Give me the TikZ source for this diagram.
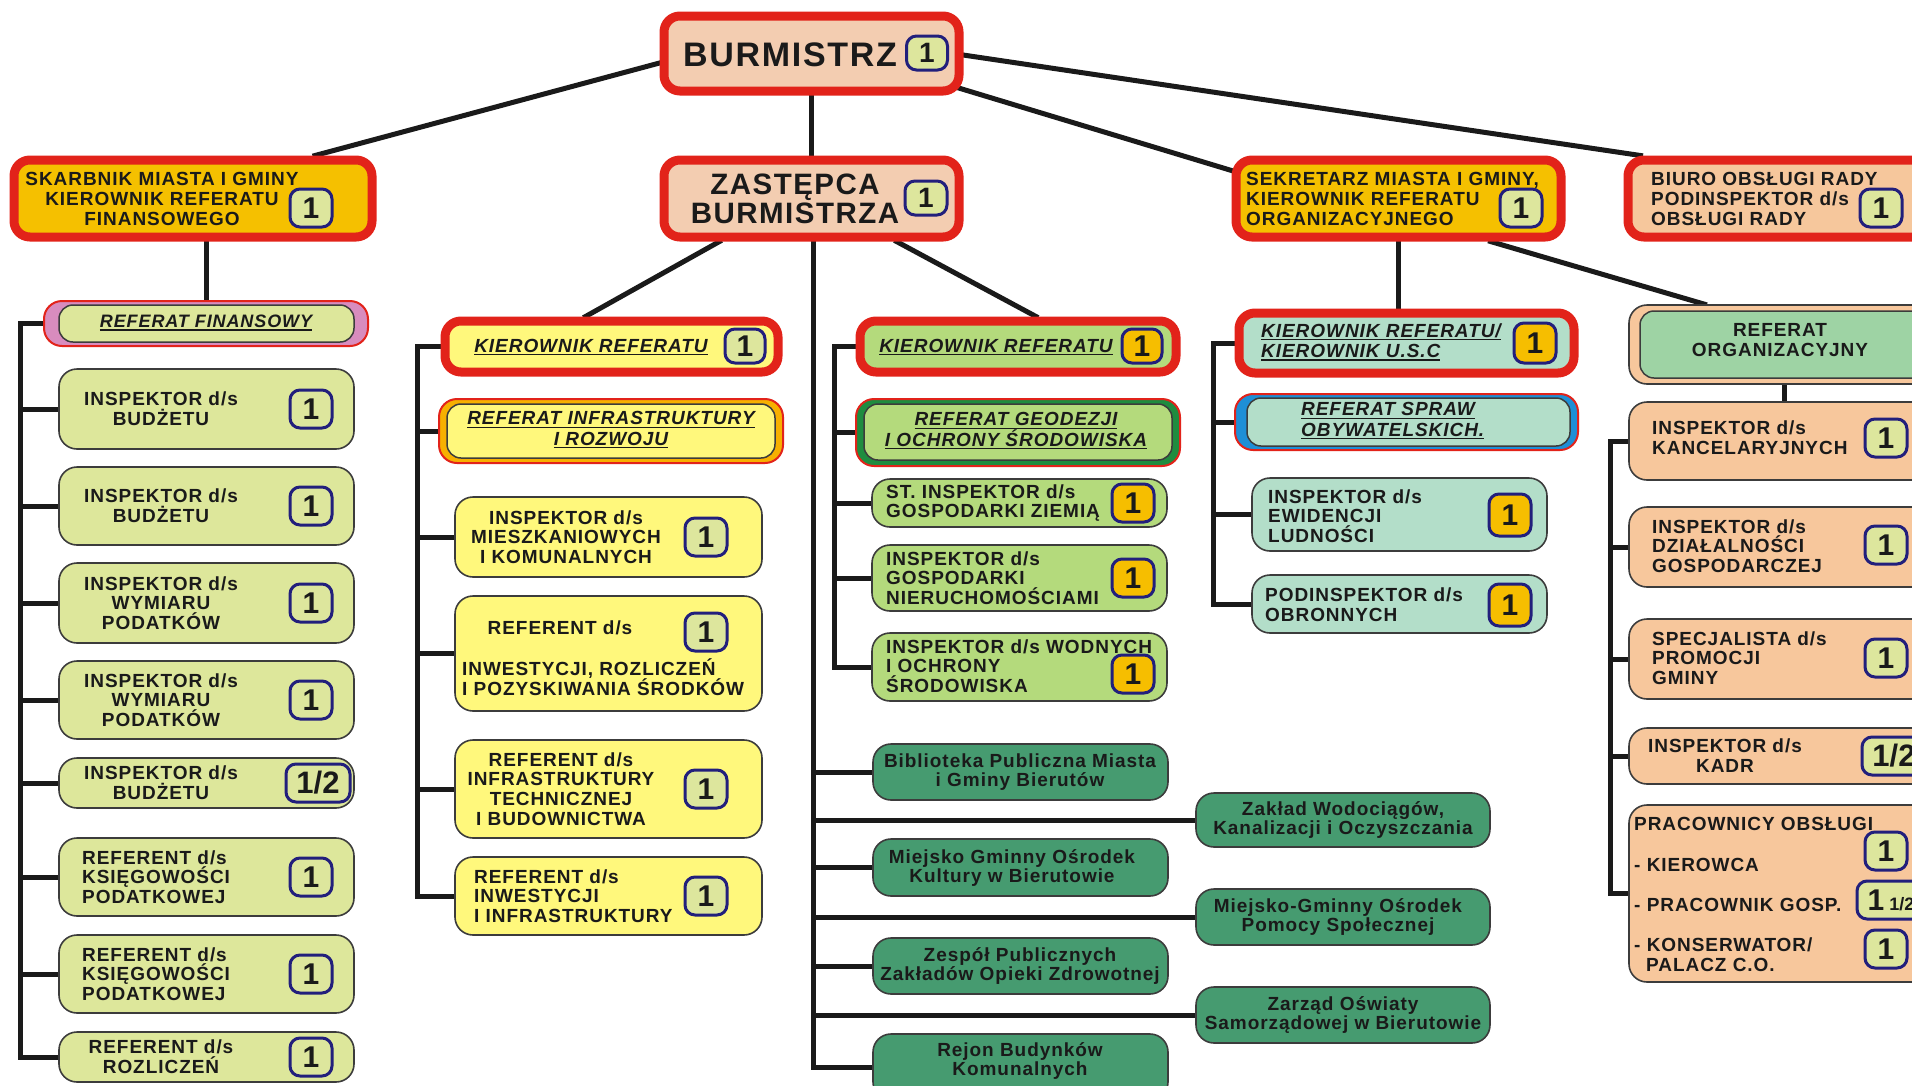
\documentclass[tikz,border=0pt]{standalone}
\usepackage{fontspec}
\setmainfont{Liberation Sans}[LetterSpace=5]
\newfontfamily\plainfont{Liberation Sans}
\usetikzlibrary{calc,backgrounds}
\definecolor{cred}{HTML}{E2231A}
\definecolor{cpeach}{HTML}{F3CDB1}
\definecolor{cgold}{HTML}{F5C000}
\definecolor{cbiu}{HTML}{F6C79C}
\definecolor{cfin}{HTML}{DDE79B}
\definecolor{cpink}{HTML}{D88CBE}
\definecolor{cyel}{HTML}{FFF87C}
\definecolor{cringo}{HTML}{F7B000}
\definecolor{clgr}{HTML}{B4DA7C}
\definecolor{cringg}{HTML}{1F8C3F}
\definecolor{cteal}{HTML}{B3DEC9}
\definecolor{cringb}{HTML}{1E8FD6}
\definecolor{corg}{HTML}{F7C79C}
\definecolor{crorg}{HTML}{9ED3A4}
\definecolor{cdgr}{HTML}{469B70}
\definecolor{cnavy}{HTML}{221F7C}
\definecolor{cblt}{HTML}{DDE69D}
\definecolor{cbor}{HTML}{F6BE00}
\definecolor{cink}{HTML}{1A1A1A}
\definecolor{cedge}{HTML}{3C3C3C}
\newcommand\ulx[1]{\setbox0\hbox{#1}\rlap{\rule[-3pt]{\wd0}{1.3pt}}\box0}
\newcommand\mkbox[6]{\node[#2, minimum width={(#5)-(#3)}, minimum height={(#6)-(#4)}, inner sep=0pt] (#1) at ({((#3)+(#5))/2},{((#4)+(#6))/2}) {};}
\tikzset{
  tred/.style={draw=cred, line width=9pt, rounded corners=16pt},
  sbox/.style={draw=cedge, line width=1.6pt, rounded corners=18pt},
  ringbox/.style={draw=cred, line width=2pt, rounded corners=18pt},
  innerbox/.style={draw=cedge, line width=1.5pt, rounded corners=14pt},
  conn/.style={draw=cink, line width=5pt, line cap=rect},
  badge/.style={draw=cnavy, line width=3pt, rounded corners=10pt, minimum width=42pt, minimum height=38pt, inner sep=0pt, font=\plainfont\bfseries\fontsize{30}{30}\selectfont, text=cink},
  tx/.style={font=\bfseries\fontsize{19}{19.8}\selectfont, text=cink, inner sep=0pt},
  ti/.style={font=\bfseries\itshape\fontsize{19}{20.5}\selectfont, text=cink, inner sep=0pt},
}
\begin{document}
\begin{tikzpicture}[x=1pt,y=-1pt]
\useasboundingbox (0,0) rectangle (1912,1085);
% ---------- top level ----------
\mkbox{bur}{tred,fill=cpeach}{664}{16}{959}{91}
\mkbox{zas}{tred,fill=cpeach}{664}{160}{959}{237}
\mkbox{sk}{tred,fill=cgold}{14}{160}{372}{237}
\mkbox{sek}{tred,fill=cgold}{1236}{160}{1561}{237}
\mkbox{biu}{tred,fill=cbiu}{1628}{160}{1940}{237}
\node[tx, font=\bfseries\fontsize{34}{34}\selectfont] (tbur) at (790,55) {BURMISTRZ};
\node[badge, fill=cblt, minimum height=34pt, minimum width=41pt, font=\plainfont\bfseries\fontsize{28}{28}\selectfont] (bbur) at (927,53) {1};
\node[tx, align=center, font=\bfseries\fontsize{29.5}{29.5}\selectfont] (tzas) at (795,199) {ZASTĘPCA\\BURMISTRZA};
\node[badge, fill=cblt, minimum height=34pt, font=\plainfont\bfseries\fontsize{28}{28}\selectfont] (bzas) at (926,198) {1};
\node[tx, align=center] (tsk) at (162,199) {SKARBNIK MIASTA I GMINY\\KIEROWNIK REFERATU\\FINANSOWEGO};
\node[badge, fill=cblt] (bsk) at (311,208) {1};
\node[tx, align=left, anchor=west] (tsek) at (1246,199) {SEKRETARZ MIASTA I GMINY,\\KIEROWNIK REFERATU\\ORGANIZACYJNEGO};
\node[badge, fill=cblt] (bsek) at (1521,208) {1};
\node[tx, align=left, anchor=west] (tbiu) at (1651,199) {BIURO OBSŁUGI RADY\\PODINSPEKTOR d/s\\OBSŁUGI RADY};
\node[badge, fill=cblt] (bbiu) at (1881,208) {1};
% ---------- finance ----------
\mkbox{rfo}{ringbox, fill=cpink}{44}{301}{368}{346}
\mkbox{rfi}{innerbox, fill=cfin}{59}{305}{354}{342}
\node[ti, font=\bfseries\itshape\fontsize{18}{18}\selectfont] (trf) at (206,323) {\ulx{REFERAT FINANSOWY}};
\mkbox{f1}{sbox, fill=cfin}{59}{369}{354}{449}
\mkbox{f2}{sbox, fill=cfin}{59}{467}{354}{545}
\mkbox{f3}{sbox, fill=cfin}{59}{563}{354}{643}
\mkbox{f4}{sbox, fill=cfin}{59}{661}{354}{739}
\mkbox{f5}{sbox, fill=cfin}{59}{758}{354}{808}
\mkbox{f6}{sbox, fill=cfin}{59}{838}{354}{916}
\mkbox{f7}{sbox, fill=cfin}{59}{935}{354}{1013}
\mkbox{f8}{sbox, fill=cfin}{59}{1032}{354}{1082}
\node[tx, align=center] (tf1) at (161,409) {INSPEKTOR d/s\\BUDŻETU};
\node[tx, align=center] (tf2) at (161,506) {INSPEKTOR d/s\\BUDŻETU};
\node[tx, align=center] (tf3) at (161,603) {INSPEKTOR d/s\\WYMIARU\\PODATKÓW};
\node[tx, align=center] (tf4) at (161,700) {INSPEKTOR d/s\\WYMIARU\\PODATKÓW};
\node[tx, align=center] (tf5) at (161,783) {INSPEKTOR d/s\\BUDŻETU};
\node[tx, align=left, anchor=west] (tf6) at (82,877) {REFERENT d/s\\KSIĘGOWOŚCI\\PODATKOWEJ};
\node[tx, align=left, anchor=west] (tf7) at (82,974) {REFERENT d/s\\KSIĘGOWOŚCI\\PODATKOWEJ};
\node[tx, align=center] (tf8) at (161,1057) {REFERENT d/s\\ROZLICZEŃ};
\node[badge, fill=cblt] (bf1) at (311,409) {1};
\node[badge, fill=cblt] (bf2) at (311,506) {1};
\node[badge, fill=cblt] (bf3) at (311,603) {1};
\node[badge, fill=cblt] (bf4) at (311,700) {1};
\node[badge, fill=cblt, minimum width=64pt, font=\plainfont\bfseries\fontsize{31}{31}\selectfont] (bf5) at (318,783) {1/2};
\node[badge, fill=cblt] (bf6) at (311,877) {1};
\node[badge, fill=cblt] (bf7) at (311,974) {1};
\node[badge, fill=cblt] (bf8) at (311,1057) {1};
% ---------- infrastructure (yellow) ----------
\mkbox{kry}{tred, fill=cyel}{445}{321}{778}{372}
\node[ti] (tkry) at (591,347) {\ulx{KIEROWNIK REFERATU}};
\node[badge, fill=cblt, minimum height=34pt, minimum width=40pt] (bkry) at (745,346) {1};
\mkbox{rio}{ringbox, fill=cringo}{439}{399}{783}{463}
\mkbox{rii}{innerbox, fill=cyel}{447}{404}{775}{458}
\node[ti, align=center] (trii) at (611,430) {\ulx{REFERAT INFRASTRUKTURY}\\\ulx{I ROZWOJU}};
\mkbox{y1}{sbox, fill=cyel}{455}{497}{762}{577}
\mkbox{y2}{sbox, fill=cyel}{455}{596}{762}{711}
\mkbox{y3}{sbox, fill=cyel}{455}{740}{762}{838}
\mkbox{y4}{sbox, fill=cyel}{455}{857}{762}{935}
\node[tx, align=center] (ty1) at (566,537) {INSPEKTOR d/s\\MIESZKANIOWYCH\\I KOMUNALNYCH};
\node[tx] (ty2a) at (560,628) {REFERENT d/s};
\node[tx, align=left, anchor=west] (ty2b) at (462,677) {INWESTYCJI, ROZLICZEŃ\\I POZYSKIWANIA ŚRODKÓW};
\node[tx, align=center] (ty3) at (561,789) {REFERENT d/s\\INFRASTRUKTURY\\TECHNICZNEJ\\I BUDOWNICTWA};
\node[tx, align=left, anchor=west] (ty4) at (474,896) {REFERENT d/s\\INWESTYCJI\\I INFRASTRUKTURY};
\node[badge, fill=cblt] (by1) at (706,537) {1};
\node[badge, fill=cblt] (by2) at (706,632) {1};
\node[badge, fill=cblt] (by3) at (706,789) {1};
\node[badge, fill=cblt] (by4) at (706,896) {1};
% ---------- geodesy (light green) ----------
\mkbox{krg}{tred, fill=clgr}{860}{321}{1176}{372}
\node[ti] (tkrg) at (996,347) {\ulx{KIEROWNIK REFERATU}};
\node[badge, fill=cbor, minimum height=34pt, minimum width=40pt] (bkrg) at (1142,346) {1};
\mkbox{rgo}{ringbox, fill=cringg}{856}{399}{1180}{466}
\mkbox{rgi}{innerbox, fill=clgr}{864}{404}{1172}{460}
\node[ti, align=center] (trgi) at (1016,431) {\ulx{REFERAT GEODEZJI}\\\ulx{I OCHRONY ŚRODOWISKA}};
\mkbox{g1}{sbox, fill=clgr}{872}{479}{1167}{527}
\mkbox{g2}{sbox, fill=clgr}{872}{545}{1167}{611}
\mkbox{g3}{sbox, fill=clgr}{872}{633}{1167}{701}
\node[tx, align=left, anchor=west] (tg1) at (886,503) {ST. INSPEKTOR d/s\\GOSPODARKI ZIEMIĄ};
\node[tx, align=left, anchor=west] (tg2) at (886,578) {INSPEKTOR d/s\\GOSPODARKI\\NIERUCHOMOŚCIAMI};
\node[tx, align=left, anchor=west] (tg3) at (886,666) {INSPEKTOR d/s WODNYCH\\I OCHRONY\\ŚRODOWISKA};
\node[badge, fill=cbor] (bg1) at (1133,503) {1};
\node[badge, fill=cbor] (bg2) at (1133,578) {1};
\node[badge, fill=cbor] (bg3) at (1133,674) {1};
% ---------- civil affairs (teal) ----------
\mkbox{kru}{tred, fill=cteal}{1239}{313}{1574}{373}
\node[ti, align=left, anchor=west] (tkru) at (1261,342) {\ulx{KIEROWNIK REFERATU/}\\\ulx{KIEROWNIK U.S.C}};
\node[badge, fill=cbor, minimum height=40pt] (bkru) at (1535,343) {1};
\mkbox{rso}{ringbox, fill=cringb}{1235}{394}{1578}{450}
\mkbox{rsi}{innerbox, fill=cteal}{1247}{398}{1570}{446}
\node[ti, align=left, anchor=west] (trsi) at (1301,421) {\ulx{REFERAT SPRAW}\\\ulx{OBYWATELSKICH.}};
\mkbox{t1}{sbox, fill=cteal}{1252}{478}{1547}{551}
\mkbox{t2}{sbox, fill=cteal}{1252}{575}{1547}{633}
\node[tx, align=left, anchor=west] (tt1) at (1268,516) {INSPEKTOR d/s\\EWIDENCJI\\LUDNOŚCI};
\node[tx, align=left, anchor=west] (tt2) at (1265,605) {PODINSPEKTOR d/s\\OBRONNYCH};
\node[badge, fill=cbor, minimum height=42pt] (bt1) at (1510,515) {1};
\node[badge, fill=cbor, minimum height=42pt] (bt2) at (1510,605) {1};
% ---------- organisational (orange) ----------
\mkbox{rorg}{sbox, fill=corg}{1629}{305}{1940}{384}
\mkbox{rorgi}{innerbox, fill=crorg}{1640}{311}{1940}{378}
\node[tx, align=center] (trorg) at (1780,340) {REFERAT\\ORGANIZACYJNY};
\mkbox{o1}{sbox, fill=corg}{1629}{402}{1940}{480}
\mkbox{o2}{sbox, fill=corg}{1629}{507}{1940}{587}
\mkbox{o3}{sbox, fill=corg}{1629}{619}{1940}{699}
\mkbox{o4}{sbox, fill=corg}{1629}{728}{1940}{784}
\mkbox{o5}{sbox, fill=corg}{1629}{805}{1940}{982}
\node[tx, align=left, anchor=west] (to1) at (1652,438) {INSPEKTOR d/s\\KANCELARYJNYCH};
\node[tx, align=left, anchor=west] (to2) at (1652,546) {INSPEKTOR d/s\\DZIAŁALNOŚCI\\GOSPODARCZEJ};
\node[tx, align=left, anchor=west] (to3) at (1652,658) {SPECJALISTA d/s\\PROMOCJI\\GMINY};
\node[tx, align=center] (to4) at (1725,756) {INSPEKTOR d/s\\KADR};
\node[tx, anchor=west] (to5a) at (1634,824) {PRACOWNICY OBSŁUGI};
\node[tx, anchor=west] (to5b) at (1634,865) {- KIEROWCA};
\node[tx, anchor=west] (to5c) at (1634,905) {- PRACOWNIK GOSP.};
\node[tx, align=left, anchor=west] (to5d) at (1634,955) {- KONSERWATOR/\\\hspace*{12pt}PALACZ C.O.};
\node[badge, fill=cblt] (bo1) at (1886,438) {1};
\node[badge, fill=cblt] (bo2) at (1886,545) {1};
\node[badge, fill=cblt] (bo3) at (1886,658) {1};
\node[badge, fill=cblt, minimum width=64pt, font=\plainfont\bfseries\fontsize{31}{31}\selectfont] (bo4) at (1894,756) {1/2};
\node[badge, fill=cblt] (bo5a) at (1886,851) {1};
\node[badge, fill=cblt, minimum width=68pt] (bo5b) at (1891,900) {1\,{\fontsize{18}{18}\selectfont 1/2}};
\node[badge, fill=cblt] (bo5c) at (1886,949) {1};
% ---------- municipal units (dark green) ----------
\mkbox{d1}{sbox, fill=cdgr}{873}{744}{1168}{800}
\mkbox{d2}{sbox, fill=cdgr}{873}{839}{1168}{896}
\mkbox{d3}{sbox, fill=cdgr}{873}{938}{1168}{994}
\mkbox{d4}{sbox, fill=cdgr}{873}{1034}{1168}{1100}
\mkbox{e1}{sbox, fill=cdgr}{1196}{793}{1490}{847}
\mkbox{e2}{sbox, fill=cdgr}{1196}{889}{1490}{945}
\mkbox{e3}{sbox, fill=cdgr}{1196}{987}{1490}{1043}
\node[tx, align=center] (td1) at (1020,772) {Biblioteka Publiczna Miasta\\i Gminy Bierutów};
\node[tx, align=center] (td2) at (1012,868) {Miejsko Gminny Ośrodek\\Kultury w Bierutowie};
\node[tx, align=center] (td3) at (1020,966) {Zespół Publicznych\\Zakładów Opieki Zdrowotnej};
\node[tx, align=center] (td4) at (1020,1061) {Rejon Budynków\\Komunalnych};
\node[tx, align=center] (te1) at (1343,820) {Zakład Wodociągów,\\Kanalizacji i Oczyszczania};
\node[tx, align=center] (te2) at (1338,917) {Miejsko-Gminny Ośrodek\\Pomocy Społecznej};
\node[tx, align=center] (te3) at (1343,1015) {Zarząd Oświaty\\Samorządowej w Bierutowie};
% ---------- bus coordinates ----------
\coordinate (fbus) at (20,0);
\coordinate (ybus) at (417,0);
\coordinate (gbus) at (834,0);
\coordinate (zbus) at (813,0);
\coordinate (tbus) at (1213,0);
\coordinate (obus) at (1610,0);
% ---------- connectors ----------
\begin{scope}[on background layer]
\draw[conn] ($(bur.west)+(0,9.5)$) -- ($(sk.north)+(122,0)$);
\draw[conn] (bur.south) -- (zas.north);
\draw[conn] ($(bur.center)+(0,-10)$) -- ($(sek.west)+(0,-28)$);
\draw[conn] ($(bur.center)+(0,-21)$) -- ($(biu.north west)+(17,0)$);
\draw[conn] (rfo.north) -- (rfo.north |- sk.south);
\draw[conn] ($(zas.south)+(-92,0)$) -- ($(kry.north)+(-26,0)$);
\draw[conn] ($(zas.south)+(85,0)$) -- ($(krg.north)+(18,0)$);
\draw[conn] (zbus |- zas.south) -- (zbus |- d4.west);
\draw[conn] (sek.south) -- (sek.south |- kru.north);
\draw[conn] ($(sek.south)+(92,0)$) -- ($(rorg.north)+(-80,0)$);
\draw[conn] (rorg.south) -- (o1.north);
% finance bus
\draw[conn] (fbus |- rfo.west) -- (fbus |- f8.west);
\foreach \n in {rfo,f1,f2,f3,f4,f5,f6,f7,f8} \draw[conn] (fbus |- \n.west) -- (\n.west);
% yellow bus
\draw[conn] (ybus |- kry.west) -- (ybus |- y4.west);
\foreach \n in {kry,rio,y1,y2,y3,y4} \draw[conn] (ybus |- \n.west) -- (\n.west);
% green bus
\draw[conn] (gbus |- krg.west) -- (gbus |- g3.west);
\foreach \n in {krg,rgo,g1,g2,g3} \draw[conn] (gbus |- \n.west) -- (\n.west);
% teal bus
\draw[conn] (tbus |- kru.west) -- (tbus |- t2.west);
\foreach \n in {kru,rso,t1,t2} \draw[conn] (tbus |- \n.west) -- (\n.west);
% orange bus
\draw[conn] (obus |- o1.west) -- (obus |- o5.west);
\foreach \n in {o1,o2,o3,o4,o5} \draw[conn] (obus |- \n.west) -- (\n.west);
% municipal units
\foreach \n in {d1,d2,d3,d4,e1,e2,e3} \draw[conn] (zbus |- \n.west) -- (\n.west);
\end{scope}
\end{tikzpicture}
\end{document}
